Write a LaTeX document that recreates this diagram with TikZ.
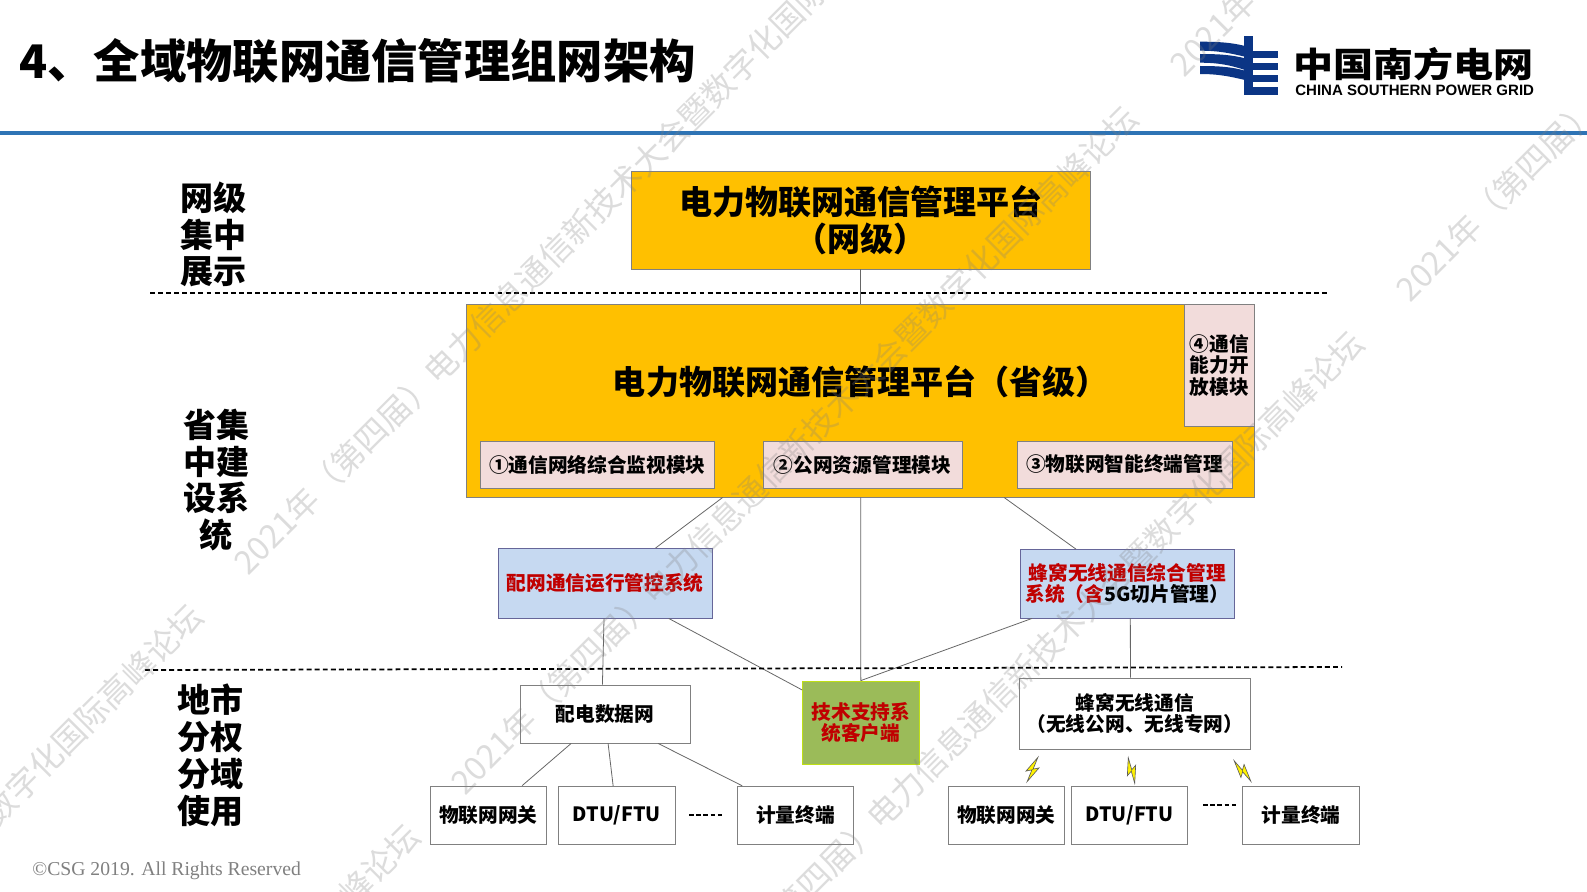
\documentclass[tikz,border=0pt]{standalone}
\usepackage{fontspec}
\setmainfont{Noto Sans CJK SC}
\newfontfamily\serifnote{Liberation Serif}
\newfontfamily\latinbold{Liberation Sans}
\definecolor{gold}{HTML}{FFC000}
\definecolor{rose}{HTML}{F2DCDB}
\definecolor{sky}{HTML}{C6D9F1}
\definecolor{leaf}{HTML}{9BBB59}
\definecolor{crimson}{HTML}{C00000}
\definecolor{navy}{HTML}{0B3585}
\definecolor{rulebar}{HTML}{2E74B5}
\tikzset{
  big/.style={font=\bfseries\fontsize{18.8}{21}\selectfont,align=center},
  small/.style={font=\bfseries\fontsize{11.2}{12.2}\selectfont,align=center},
  box/.style={draw=gray,inner sep=0pt,line width=0.5pt},
  goldbox/.style={box,fill=gold,big},
  rosebox/.style={box,fill=rose,small,minimum height=0.94cm},
  skybox/.style={box,fill=sky,small,text=crimson,draw=gray!80!blue},
  whitebox/.style={box,fill=white,small},
  endbox/.style={whitebox,minimum width=2.33cm,minimum height=1.16cm},
  link/.style={draw=gray!80!black,line width=0.45pt},
  cut/.style={line width=1pt,dash pattern=on 2.8pt off 1.8pt},
  side/.style={big},
  stamp/.style={anchor=west,rotate=45,text=gray,opacity=0.27,font=\fontsize{18.6}{21}\selectfont},
  bolt/.pic={\draw[fill=yellow,draw=gray!70!black,line width=0.35pt]
    (2.5,-13) -- (-6,3) -- (-0.5,0.5) -- (-2.5,13) -- (6,-3) -- (0.5,-0.5) -- cycle;},
}
\begin{document}
\begin{tikzpicture}[x=0.02cm,y=-0.02cm]
  \clip (0,0) rectangle (1587,892);
  \fill[white] (0,0) rectangle (1587,892);

  \fill[rulebar] (0,131) rectangle (1587,135.5);
  \node[anchor=west,inner sep=0pt,font=\bfseries\fontsize{26.35}{30}\selectfont] (title) at (19,61) {4、全域物联网通信管理组网架构};

  \fill[navy] (1244.3,36) rectangle (1253.3,95);
  \foreach \t/\b in {50.7/58.3,62.7/70,75/82.3,87.3/95}
    \fill[navy] (1253,\t) rectangle (1278,\b);
  \foreach \a/\b/\c/\d in {41.7/50.7/46/56.7,54/62.7/58.3/70,66/74/70.7/80}
    \fill[navy] (1200,\a) .. controls (1220,\a) and (1232,\a+1) .. (1245,\c)
      -- (1245,\d) .. controls (1232,\b+3) and (1220,\b) .. (1200,\b) -- cycle;
  \node[anchor=west,inner sep=0pt,yscale=0.86,font=\bfseries\fontsize{22.8}{26}\selectfont] (logocn) at (1293,64.5) {中国南方电网};
  \node[anchor=west,inner sep=0pt,font=\latinbold\bfseries\fontsize{8.55}{10}\selectfont] (logoen) at (1295,90.5) {CHINA SOUTHERN POWER GRID};

  \node[side] (level1) at (213.5,234.5) {网级\\集中\\展示};
  \node[side] (level2) at (216.5,480) {省集\\中建\\设系\\统};
  \node[side] (level3) at (210.5,755) {地市\\分权\\分域\\使用};

  \coordinate (cut1l) at (150,293);
  \coordinate (cut1r) at (1328,293);
  \coordinate (cut2l) at (145,670);
  \coordinate (cut2r) at (1342,667);

  \node[goldbox,minimum width=9.17cm,minimum height=1.96cm] (top) at (860.75,220) {电力物联网通信管理平台\\（网级）};
  \node[box,fill=gold,minimum width=15.77cm,minimum height=3.85cm] (prov) at (860.75,400.8) {};
  \node[big] (provtext) at (860.7,381.5) {电力物联网通信管理平台（省级）};
  \node[box,fill=rose,small,minimum width=1.4cm,minimum height=2.43cm] (open) at (1219.5,365.3) {④通信\\能力开\\放模块};
  \node[rosebox,minimum width=4.69cm] (mod1) at (597.25,464.5) {①通信网络综合监视模块};
  \node[rosebox,minimum width=3.98cm] (mod2) at (862.5,464.5) {②公网资源管理模块};
  \node[rosebox,minimum width=4.3cm] (mod3) at (1124.5,464.5) {③物联网智能终端管理};

  \node[skybox,minimum width=4.29cm,minimum height=1.39cm] (opsys) at (605.25,583.25) {配网通信运行管控系统};
  \node[skybox,minimum width=4.29cm,minimum height=1.37cm] (cellsys) at (1127.3,583.75) {蜂窝无线通信综合管理\\系统（含\textcolor{black}{5G切片管理）}};

  \node[whitebox,minimum width=3.4cm,minimum height=1.16cm] (datanet) at (605,714) {配电数据网};
  \node[box,fill=leaf,draw=yellow!75!green,small,text=crimson,minimum width=2.33cm,minimum height=1.66cm] (client) at (860.85,722.5) {技术支持系\\统客户端};
  \node[whitebox,minimum width=4.61cm,minimum height=1.42cm] (cellnet) at (1134.85,713.5) {蜂窝无线通信\\（无线公网、无线专网）};

  \node[endbox] (gate1) at (488.35,815) {物联网网关};
  \node[endbox] (dtu1) at (616.75,815.25) {DTU/FTU};
  \node[endbox] (meter1) at (795.35,815.25) {计量终端};
  \node[endbox] (gate2) at (1006.35,815) {物联网网关};
  \node[endbox] (dtu2) at (1129.5,815) {DTU/FTU};
  \node[endbox] (meter2) at (1301,815.35) {计量终端};

  \draw[link] (top.south) -- (prov.north);
  \draw[link] (prov.south) -- (client.north);
  \draw[link] (prov.215.9) -- (opsys.35.5);
  \draw[link] (prov.-34.8) -- (cellsys.146.3);
  \draw[link] (opsys.-92) -- (datanet.95.9);
  \draw[link] (opsys.-29) -- (client.151.6);
  \draw[link] (cellsys.200.4) -- (client.north);
  \draw[link] (cellsys.-85.5) -- (cellnet.97.8);
  \draw[link] (datanet.221) -- (gate1.41);
  \draw[link] (datanet.-84) -- (dtu1.97.4);
  \draw[link] (datanet.-29) -- (meter1.151.8);

  \draw[cut] (cut1l) -- (cut1r);
  \draw[cut] (cut2l) -- (cut2r);

  \coordinate (more1l) at (689,815);
  \coordinate (more1r) at (724,815);
  \coordinate (more2l) at (1203,805);
  \coordinate (more2r) at (1238,805);
  \draw[line width=0.9pt,dash pattern=on 2.6pt off 1.5pt] (more1l) -- (more1r);
  \draw[line width=0.9pt,dash pattern=on 2.6pt off 1.5pt] (more2l) -- (more2r);

  \pic[rotate=-13] at (1032.5,769.5) {bolt};
  \pic[rotate=25] at (1131.5,770.5) {bolt};
  \pic[rotate=50] at (1242.5,771) {bolt};

  \node[anchor=west,inner sep=0pt,text=gray,font=\serifnote\fontsize{11.2}{13}\selectfont] (copy) at (32,871) {©CSG 2019. All Rights Reserved};

  \foreach \x/\y [count=\i] in {-483/1290,235/572,953/-146,-266/1510,452/792,1171/74,678/1017,1397/299}
    \node[stamp] (mark\i) at (\x,\y) {2021年（第四届）电力信息通信新技术大会暨数字化国际高峰论坛};
\end{tikzpicture}
\end{document}
